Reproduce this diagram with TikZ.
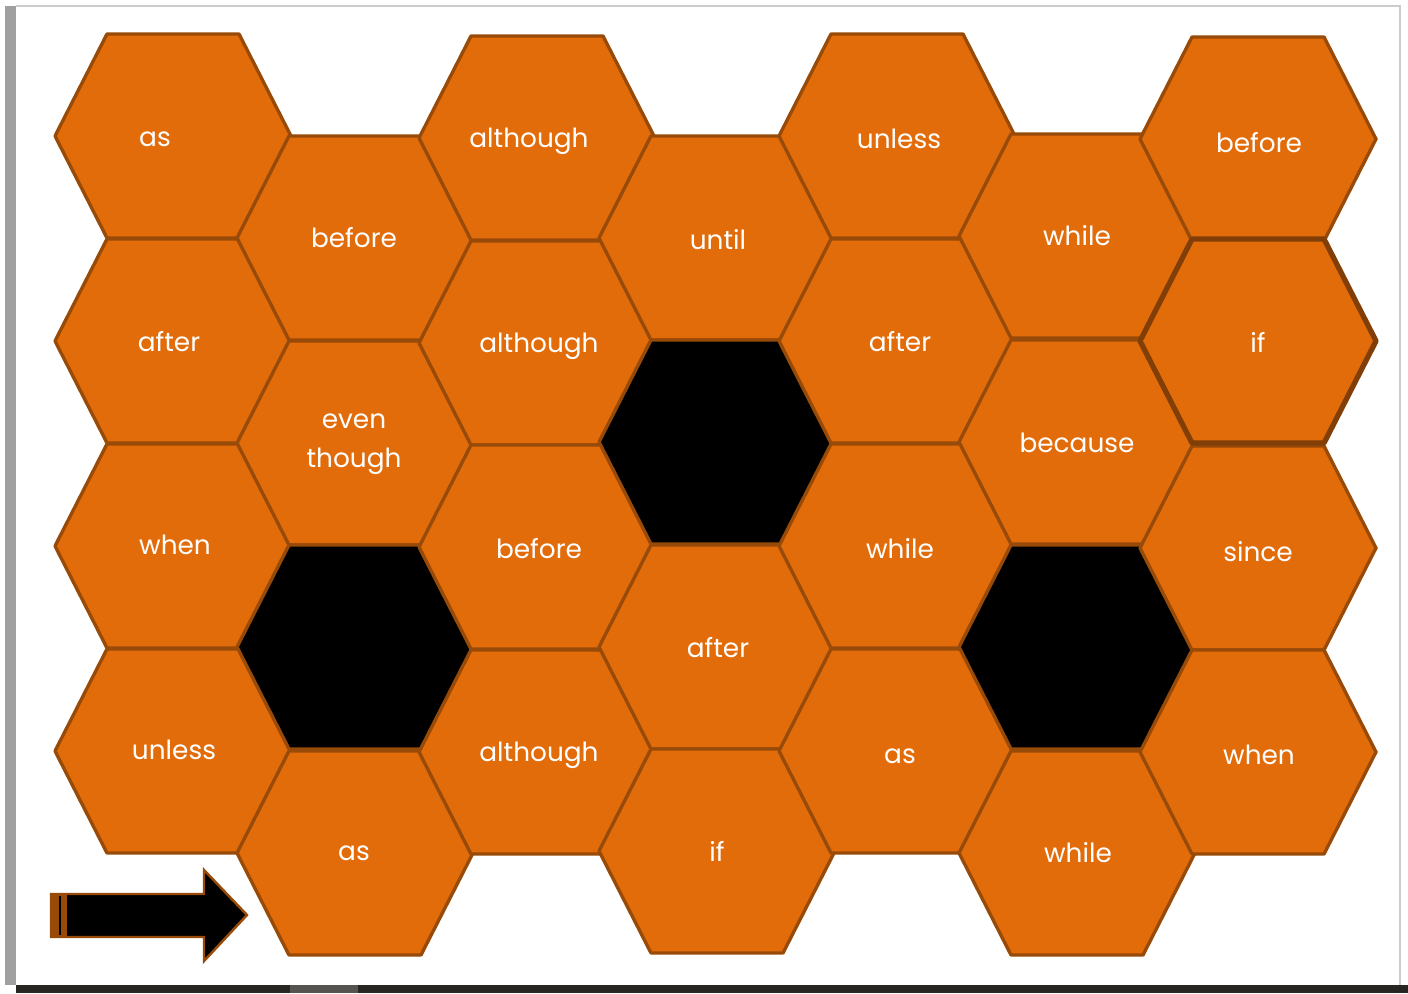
\documentclass[tikz,border=0pt]{standalone}
\usepackage{fontspec}
\setmainfont{Poppins}
\usepackage{xcolor}
\usepackage{tikz}
\usetikzlibrary{calc}
\definecolor{hexfill}{RGB}{227,108,10}
\definecolor{hexline}{RGB}{152,74,8}
\definecolor{framegray}{RGB}{160,160,160}
\definecolor{bardark}{RGB}{40,38,34}
\definecolor{barlight}{RGB}{85,84,80}
\tikzset{
  hexcell/.style={draw=hexline, fill=hexfill, line width=1.9pt, line join=round},
  holecell/.style={draw=hexline, fill=black, line width=1.9pt, line join=round},
  markcell/.style={draw=hexline!85!black, fill=hexfill, line width=3pt, line join=round},
  word/.style={text=white, font=\fontsize{15}{22}\selectfont, align=center, inner sep=0pt},
  startarrow/.style={draw=hexline, fill=black, line width=1.4pt, line join=miter}
}
% one honeycomb cell centred at (#2,#3), pixel units
\newcommand{\hexcellat}[3][hexcell]{%
  \draw[#1] (#2,#3) +(-118,0) -- +(-66,-102) -- +(66,-102) -- +(118,0)
    -- +(66,102) -- +(-66,102) -- cycle;}

\begin{document}
\begin{tikzpicture}[x=0.02cm,y=-0.02cm]
  % page and frame
  \useasboundingbox (0,0) rectangle (1408,993);
  \fill[white] (0,0) rectangle (1408,993);
  \fill[framegray] (5,6) rectangle (16,985);
  \draw[black!20, line width=0.6pt] (16,6) -- (1400,6) -- (1400,985);
  \fill[bardark] (16,985) rectangle (1408,993);
  \fill[barlight] (290,985) rectangle (358,993);

  % cells, column by column
  \hexcellat{173}{136}
  \hexcellat{173}{341}
  \hexcellat{173}{546}
  \hexcellat{173}{751}
  \hexcellat{355}{238}
  \hexcellat{355}{443}
  \hexcellat[holecell]{355}{647}
  \hexcellat{355}{853}
  \hexcellat{537}{138}
  \hexcellat{537}{343}
  \hexcellat{537}{547}
  \hexcellat{537}{752}
  \hexcellat{717}{238}
  \hexcellat[holecell]{717}{442}
  \hexcellat{717}{647}
  \hexcellat{717}{851}
  \hexcellat{897}{136}
  \hexcellat{897}{341}
  \hexcellat{897}{546}
  \hexcellat{897}{751}
  \hexcellat{1077}{236}
  \hexcellat{1077}{442}
  \hexcellat[holecell]{1077}{647}
  \hexcellat{1077}{853}
  \hexcellat{1258}{139}
  \hexcellat{1258}{548}
  \hexcellat{1258}{752}
  \hexcellat[markcell]{1258}{341}

  % words
  \node[word] (as1) at (155,139) {as};
  \node[word] (after1) at (169,342) {after};
  \node[word] (when1) at (175,545) {when};
  \node[word] (unless1) at (174,750) {unless};
  \node[word] (before1) at (354,238) {before};
  \node[word] (eventhough) at (354,444) {even\\though};
  \node[word] (as2) at (354,853) {as};
  \node[word] (although1) at (529,141) {although};
  \node[word] (although2) at (539,346) {although};
  \node[word] (before2) at (539,549) {before};
  \node[word] (although3) at (539,755) {although};
  \node[word] (until) at (718,240) {until};
  \node[word] (after2) at (718,648) {after};
  \node[word] (if1) at (717,851) {if};
  \node[word] (unless2) at (899,139) {unless};
  \node[word] (after3) at (900,342) {after};
  \node[word] (while1) at (900,549) {while};
  \node[word] (as3) at (900,756) {as};
  \node[word] (while2) at (1077,236) {while};
  \node[word] (because) at (1077,443) {because};
  \node[word] (while3) at (1078,853) {while};
  \node[word] (before3) at (1259,143) {before};
  \node[word] (if2) at (1258,342) {if};
  \node[word] (since) at (1258,552) {since};
  \node[word] (when2) at (1259,755) {when};

  % start arrow
  \draw[startarrow] (51,894) -- (204,894) -- (204,870) -- (247,915)
    -- (204,961) -- (204,937) -- (51,937) -- cycle;
  \fill[hexline] (51,894) rectangle (67,937);
  \draw[black, line width=0.8pt] (60,896) -- (60,935);
\end{tikzpicture}
\end{document}
